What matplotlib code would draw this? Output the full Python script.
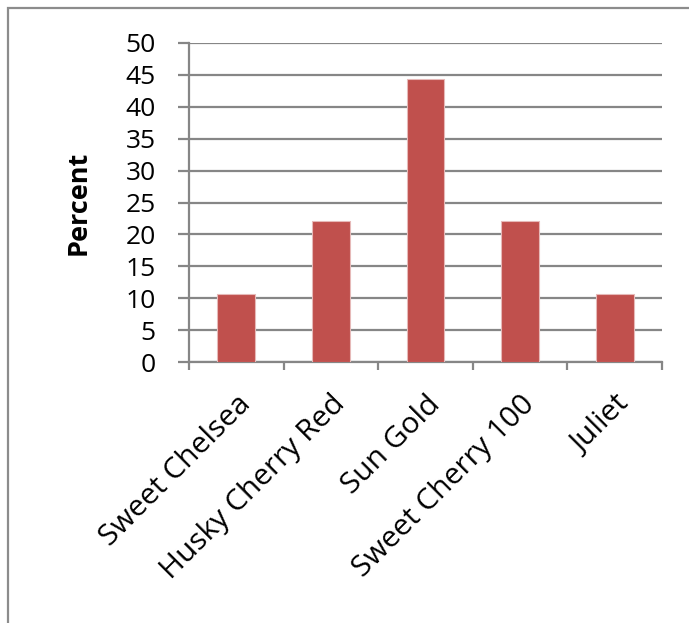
import matplotlib
matplotlib.use("Agg")
import matplotlib.pyplot as plt
from matplotlib.patches import Rectangle
import numpy as np

categories = ["Sweet Chelsea", "Husky Cherry Red", "Sun Gold", "Sweet Cherry 100", "Juliet"]
percent = [10.7, 22.1, 44.4, 22.1, 10.7]
yticks = [0, 5, 10, 15, 20, 25, 30, 35, 40, 45, 50]

plt.rcParams['font.family'] = ['Open Sans', 'DejaVu Sans']
GRAY = "#868686"

fig = plt.figure(figsize=(6.89, 6.23), dpi=100)
ax = fig.add_axes([189/689, 1-362/623, (662-189)/689, (362-43)/623])

x = np.arange(len(categories))
ax.bar(x, percent, width=0.4, color="#C0504D", edgecolor="#E6B9B8", linewidth=0.8, zorder=3)

ax.set_xlim(-0.5, len(categories) - 0.5)
ax.set_ylim(0, 50)
ax.set_yticks(yticks)
ax.set_yticklabels([str(v) for v in yticks], fontsize=19)
ax.yaxis.grid(True, color=GRAY, linewidth=1.6, zorder=0)
ax.tick_params(axis='y', length=8, width=1.6, color=GRAY, pad=16)

ax.set_xticks(x)
ax.set_xticklabels(categories, rotation=45, ha='right', va='top', rotation_mode='anchor', fontsize=21.5)
ax.tick_params(axis='x', which='major', length=0, pad=20)
ax.set_xticks(np.arange(-0.5, len(categories), 1.0), minor=True)
ax.tick_params(axis='x', which='minor', length=6, width=1.6, color=GRAY)

for s in ['top', 'right']:
    ax.spines[s].set_visible(False)
for s in ['left', 'bottom']:
    ax.spines[s].set_color(GRAY)
    ax.spines[s].set_linewidth(1.6)

ax.set_ylabel("Percent", fontsize=19.5, fontweight='bold', labelpad=24)

fig.patches.append(Rectangle((8/689, -0.1), 1.2, 1 - 8/623 + 0.1, transform=fig.transFigure,
                             fill=False, edgecolor="#8C8C8C", linewidth=1.6))

fig.savefig("out.png", dpi=100)
